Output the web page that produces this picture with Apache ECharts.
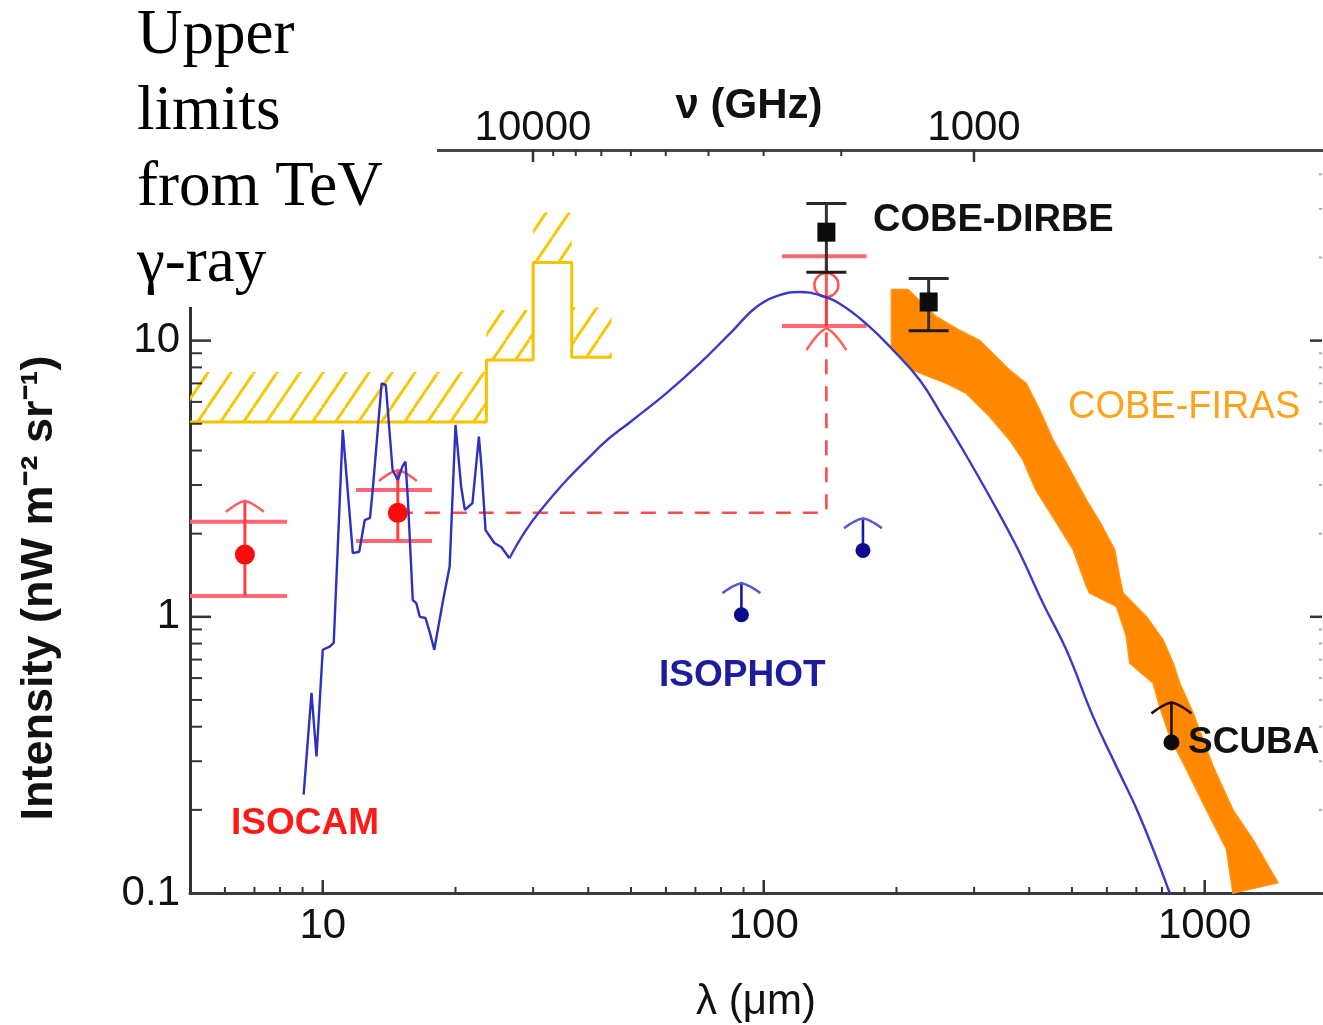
<!DOCTYPE html>
<html>
<head>
<meta charset="utf-8">
<title>Cosmic infrared background</title>
<script src="https://cdn.jsdelivr.net/npm/echarts@6.0.0/dist/echarts.min.js"></script>
<style>
html,body{margin:0;padding:0;background:#ffffff;}
#chart{width:1323px;height:1025px;}
</style>
</head>
<body>
<div id="chart"></div>
<script>
// ---------------- axes ----------------
const X_MIN = 5, X_MAX = 1845;        // wavelength λ (μm)
const Y_MIN = 0.1, Y_MAX = 49;        // intensity (nW m^-2 sr^-1)
const C_UM_GHZ = 299792.458;          // ν[GHz] = C / λ[μm]

const xMajorTicks = [10, 100, 1000];
const xMinorTicks = [6, 7, 8, 9, 20, 30, 40, 50, 60, 70, 80, 90, 200, 300, 400, 500, 600, 700, 800, 900];
const yMajorTicks = [1, 10];
const yMinorTicks = [0.2, 0.3, 0.4, 0.5, 0.6, 0.7, 0.8, 0.9, 2, 3, 4, 5, 6, 7, 8, 9, 20, 30, 40];
const nuMajorTicks = [10000, 1000];
const nuMinorTicks = [2000, 3000, 4000, 5000, 6000, 7000, 8000, 9000, 20000, 30000, 40000, 50000];

// ---------------- model spectrum (blue) ----------------
const modelSpikyLam = [9.05, 9.43, 9.68, 10.0, 10.37, 10.59, 11.1, 11.7, 12.1, 12.45, 12.8, 13.0, 13.6, 13.9, 14.4, 14.8, 15.15, 15.4, 15.6, 16.0, 16.3, 16.6, 17.1, 17.5, 17.9, 18.75, 19.4, 20.0, 20.6, 21.0, 21.85, 22.6, 22.9, 23.4, 24.5, 25.4, 26.5];
const modelSpikyI   = [0.227, 0.531, 0.312, 0.76, 0.78, 0.805, 4.75, 1.70, 1.72, 2.24, 2.28, 2.96, 7.0, 6.9, 3.4, 3.13, 3.5, 3.65, 2.65, 1.15, 1.12, 1.0, 0.99, 0.875, 0.76, 1.15, 1.52, 4.95, 2.96, 2.44, 2.58, 4.49, 3.5, 2.06, 1.85, 1.79, 1.63];
const modelBroadLam = [26.5, 31.0, 42.5, 50.5, 60.1, 71.6, 85.2, 96.1, 108.6, 120.7, 134, 148.7, 170.9, 196.5, 225.8, 254.8, 283, 325.5, 377.6, 429.8, 485.5, 558, 630, 712, 833];
const modelBroadI   = [1.63, 2.4, 4.13, 5.16, 6.44, 8.27, 10.9, 13.2, 14.6, 15.0, 14.6, 13.6, 11.5, 9.24, 7.2, 5.3, 4.02, 2.72, 1.75, 1.12, 0.76, 0.436, 0.288, 0.19, 0.1];

// ---------------- TeV gamma-ray upper limits (yellow steps) ----------------
const tevEdges  = [5, 23.5, 30, 36.7, 45.2];
const tevLevels = [5.07, 8.5, 19.2, 8.7];

// ---------------- COBE-FIRAS band (orange) ----------------
const firasUpperLam = [194.8, 212.5, 246.4, 278, 309, 361, 394, 422.6, 453, 485.6, 539, 578, 625, 641, 653, 700, 738, 804, 848, 878, 941, 1044, 1159, 1287, 1466];
const firasUpperI   = [15.3, 15.3, 12.2, 10.9, 10.0, 7.82, 7.0, 5.6, 4.37, 3.6, 2.65, 2.21, 1.75, 1.40, 1.22, 1.09, 1.0, 0.826, 0.68, 0.575, 0.449, 0.288, 0.2, 0.156, 0.109];
const firasLowerLam = [194.8, 217.9, 237.6, 259.5, 288, 325.5, 361, 387, 414, 445, 503, 539, 548, 631, 664, 676, 764, 790, 833, 909, 1009, 1120, 1159];
const firasLowerI   = [9.5, 7.82, 7.4, 7.0, 6.44, 5.3, 4.37, 3.7, 2.88, 2.40, 1.75, 1.29, 1.22, 1.09, 0.85, 0.68, 0.575, 0.474, 0.369, 0.28, 0.2, 0.144, 0.1];

// ---------------- ISOCAM (red) ----------------
const isocamLam      = [6.66, 14.8];
const isocamI        = [1.68, 2.38];
const isocamBarLo    = [1.19, 1.88];
const isocamBarHi    = [2.21, 2.88];
const isocamBarLamLo = [5.0, 11.9];
const isocamBarLamHi = [8.3, 17.7];
const isocamTip      = [2.63, 3.40];

// red open point at 140 μm and dashed limit path
const redOpenLam = [138.7];
const redOpenI = [15.9];
const redOpenLo = [11.3];
const redOpenHi = [20.2];
const redOpenLamLo = [110];
const redOpenLamHi = [171];
const dashedPathLam = [14.8, 138.7, 138.7];
const dashedPathI   = [2.38, 2.38, 11.1];

// ---------------- COBE-DIRBE (black) ----------------
const dirbeLam = [138.7, 236.6];
const dirbeI   = [24.7, 13.8];
const dirbeLo  = [17.7, 10.85];
const dirbeHi  = [31.4, 16.8];

// ---------------- ISOPHOT (blue lower limits) ----------------
const isophotLam = [89, 167.9];
const isophotI   = [1.017, 1.74];
const isophotTip = [1.324, 2.275];

// ---------------- SCUBA ----------------
const scubaLam = [840.6];
const scubaI   = [0.351];
const scubaTip = [0.49];

// ================= helpers =================
const SANS = '"Liberation Sans", Arial, Helvetica, sans-serif';
const SERIF = '"Liberation Serif", "Times New Roman", serif';

function decadeLabel(v) {
  const l = Math.log10(v);
  if (Math.abs(l - Math.round(l)) > 1e-6) return '';
  return String(+Math.pow(10, Math.round(l)).toPrecision(6));
}

function makeHatch() {
  const w = 23, h = 34;
  const c = document.createElement('canvas');
  c.width = w; c.height = h;
  const g = c.getContext('2d');
  g.strokeStyle = '#F5C80A';
  g.lineWidth = 3;
  g.beginPath();
  [-w, 0, w].forEach(o => { g.moveTo(o, h); g.lineTo(o + w, 0); });
  g.stroke();
  return c;
}
const hatchCanvas = makeHatch();

function chevron(x, y, w, d, color, lw) {
  const pts = [];
  for (let i = -4; i <= 4; i++) {
    const t = i / 4;
    pts.push([x + t * w / 2, y + d * Math.pow(Math.abs(t), 1.4)]);
  }
  return { type: 'polyline', shape: { points: pts }, style: { stroke: color, lineWidth: lw, fill: null } };
}
function seg(x1, y1, x2, y2, color, lw) {
  return { type: 'line', shape: { x1, y1, x2, y2 }, style: { stroke: color, lineWidth: lw } };
}

const tevStepPoints = [];
tevLevels.forEach((lv, i) => {
  tevStepPoints.push([tevEdges[i], lv]);
  tevStepPoints.push([tevEdges[i + 1], lv]);
});

const chart = echarts.init(document.getElementById('chart'), null, { renderer: 'canvas' });

const option = {
  animation: false,
  backgroundColor: '#ffffff',
  grid: { left: 190, right: 1, top: 150, bottom: 132, containLabel: false, outerBoundsMode: 'none' },
  xAxis: [
    {
      type: 'log', logBase: 10, min: X_MIN, max: X_MAX, gridIndex: 0, position: 'bottom',
      axisLine: { show: true, onZero: false, lineStyle: { color: '#3a3a46', width: 3 } },
      axisTick: { show: false }, minorTick: { show: false }, splitLine: { show: false },
      axisLabel: { formatter: decadeLabel, fontSize: 42, color: '#111', margin: 12, fontFamily: SANS },
      name: 'λ (μm)', nameLocation: 'middle', nameGap: 88,
      nameTextStyle: { fontSize: 42, color: '#111', fontFamily: SANS }
    },
    {
      type: 'log', logBase: 10, min: C_UM_GHZ / X_MAX, max: C_UM_GHZ / X_MIN, inverse: true,
      gridIndex: 0, position: 'top',
      axisLine: { show: true, onZero: false, lineStyle: { color: '#444452', width: 3 } },
      axisTick: { show: false }, minorTick: { show: false }, splitLine: { show: false },
      axisLabel: { formatter: decadeLabel, fontSize: 42, color: '#111', margin: 1, fontFamily: SANS }
    }
  ],
  yAxis: [
    {
      type: 'log', logBase: 10, min: Y_MIN, max: Y_MAX, gridIndex: 0, position: 'left',
      axisLine: { show: true, onZero: false, lineStyle: { color: '#33303a', width: 3 } },
      axisTick: { show: false }, minorTick: { show: false }, splitLine: { show: false },
      axisLabel: { formatter: decadeLabel, fontSize: 42, color: '#111', margin: 10, fontFamily: SANS }
    }
  ],
  series: [
    // hatched TeV upper-limit band
    {
      type: 'custom', name: 'TeV hatch', z: 1, silent: true,
      data: tevLevels.map((lv, i) => [tevEdges[i], lv, tevEdges[i + 1]]),
      renderItem: (params, api) => {
        const a = api.coord([api.value(0), api.value(1)]);
        const b = api.coord([api.value(2), api.value(1)]);
        const band = 50;
        return {
          type: 'rect',
          shape: { x: a[0], y: a[1] - band, width: b[0] - a[0], height: band },
          style: { fill: { image: hatchCanvas, repeat: 'repeat' }, stroke: null }
        };
      }
    },
    {
      type: 'line', name: 'TeV limits', z: 2, silent: true, symbol: 'none',
      data: tevStepPoints,
      lineStyle: { color: '#F4C400', width: 3 }
    },
    // COBE-FIRAS band
    {
      type: 'custom', name: 'COBE-FIRAS', z: 3, silent: true,
      data: [[firasUpperLam[0], firasUpperI[0]]],
      renderItem: (params, api) => {
        const pts = [];
        firasUpperLam.forEach((l, i) => pts.push(api.coord([l, firasUpperI[i]])));
        for (let i = firasLowerLam.length - 1; i >= 0; i--) pts.push(api.coord([firasLowerLam[i], firasLowerI[i]]));
        return { type: 'polygon', shape: { points: pts }, style: { fill: '#FF8800', stroke: '#FF9410', lineWidth: 1.5 } };
      }
    },
    // red dashed limit path
    {
      type: 'line', name: 'ISOCAM limit', z: 4, silent: true, symbol: 'none',
      data: dashedPathLam.map((l, i) => [l, dashedPathI[i]]),
      lineStyle: { color: '#FF4a4a', width: 2.6, type: [15, 12] }
    },
    // red open point with bars, chevron at dashed tip
    {
      type: 'custom', name: 'red 140', z: 5, silent: true,
      data: redOpenLam.map((l, i) => [l, redOpenI[i], redOpenLo[i], redOpenHi[i], redOpenLamLo[i], redOpenLamHi[i], dashedPathI[2]]),
      renderItem: (params, api) => {
        const lam = api.value(0);
        const p = api.coord([lam, api.value(1)]);
        const pLo = api.coord([lam, api.value(2)]);
        const pHi = api.coord([lam, api.value(3)]);
        const xa = api.coord([api.value(4), api.value(2)])[0];
        const xb = api.coord([api.value(5), api.value(2)])[0];
        const pTip = api.coord([lam, api.value(6)]);
        return { type: 'group', children: [
          seg(xa, pLo[1], xb, pLo[1], '#FF6676', 4),
          seg(xa, pHi[1], xb, pHi[1], '#FF6676', 4),
          seg(p[0], pLo[1], p[0], pHi[1], '#FF3838', 3),
          chevron(pTip[0], pTip[1], 40, 22, '#FF6060', 2.5),
          { type: 'circle', shape: { cx: p[0], cy: p[1], r: 12 }, style: { fill: 'rgba(255,255,255,0.15)', stroke: '#FF5050', lineWidth: 2.5 } }
        ] };
      }
    },
    // ISOCAM bars (under model line)
    {
      type: 'custom', name: 'ISOCAM bars', z: 5, silent: true,
      data: isocamLam.map((l, i) => [l, isocamI[i], isocamBarLo[i], isocamBarHi[i], isocamBarLamLo[i], isocamBarLamHi[i], isocamTip[i]]),
      renderItem: (params, api) => {
        const lam = api.value(0);
        const pLo = api.coord([lam, api.value(2)]);
        const pHi = api.coord([lam, api.value(3)]);
        const xa = api.coord([api.value(4), api.value(2)])[0];
        const xb = api.coord([api.value(5), api.value(2)])[0];
        const pTip = api.coord([lam, api.value(6)]);
        return { type: 'group', children: [
          seg(xa, pLo[1], xb, pLo[1], '#FF6676', 4),
          seg(xa, pHi[1], xb, pHi[1], '#FF6676', 4),
          seg(pLo[0], pLo[1], pTip[0], pTip[1], '#FF4040', 3),
          chevron(pTip[0], pTip[1], 38, 11, '#FF5a6a', 2.5)
        ] };
      }
    },
    // model spectrum
    {
      type: 'line', name: 'model (PAH)', z: 6, silent: true, symbol: 'none',
      data: modelSpikyLam.map((l, i) => [l, modelSpikyI[i]]),
      lineStyle: { color: '#2f2fc0', width: 2.4 }
    },
    {
      type: 'line', name: 'model (dust)', z: 6, silent: true, symbol: 'none', smooth: 0.45,
      data: modelBroadLam.map((l, i) => [l, modelBroadI[i]]),
      lineStyle: { color: '#3a3ac8', width: 2.4 }
    },
    // ISOCAM points
    {
      type: 'custom', name: 'ISOCAM', z: 7, silent: true,
      data: isocamLam.map((l, i) => [l, isocamI[i]]),
      renderItem: (params, api) => {
        const p = api.coord([api.value(0), api.value(1)]);
        return { type: 'circle', shape: { cx: p[0], cy: p[1], r: 10 }, style: { fill: '#FF0a0a' } };
      }
    },
    // COBE-DIRBE
    {
      type: 'custom', name: 'COBE-DIRBE', z: 8, silent: true,
      data: dirbeLam.map((l, i) => [l, dirbeI[i], dirbeLo[i], dirbeHi[i]]),
      renderItem: (params, api) => {
        const lam = api.value(0);
        const p = api.coord([lam, api.value(1)]);
        const pLo = api.coord([lam, api.value(2)]);
        const pHi = api.coord([lam, api.value(3)]);
        return { type: 'group', children: [
          seg(p[0], pLo[1], p[0], pHi[1], '#3a3030', 3),
          seg(p[0] - 20, pLo[1], p[0] + 20, pLo[1], '#221818', 3),
          seg(p[0] - 20, pHi[1], p[0] + 20, pHi[1], '#2a2a2a', 3),
          { type: 'rect', shape: { x: p[0] - 9, y: p[1] - 9.5, width: 18, height: 19 }, style: { fill: '#0c0c0c' } }
        ] };
      }
    },
    // ISOPHOT lower limits
    {
      type: 'custom', name: 'ISOPHOT', z: 8, silent: true,
      data: isophotLam.map((l, i) => [l, isophotI[i], isophotTip[i]]),
      renderItem: (params, api) => {
        const lam = api.value(0);
        const p = api.coord([lam, api.value(1)]);
        const t = api.coord([lam, api.value(2)]);
        return { type: 'group', children: [
          seg(p[0], p[1], t[0], t[1], '#1a1aa0', 2.6),
          chevron(t[0], t[1], 38, 10, '#5a5ad0', 2.5),
          { type: 'circle', shape: { cx: p[0], cy: p[1], r: 7.5 }, style: { fill: '#0b0b8c' } }
        ] };
      }
    },
    // SCUBA
    {
      type: 'custom', name: 'SCUBA', z: 8, silent: true,
      data: scubaLam.map((l, i) => [l, scubaI[i], scubaTip[i]]),
      renderItem: (params, api) => {
        const lam = api.value(0);
        const p = api.coord([lam, api.value(1)]);
        const t = api.coord([lam, api.value(2)]);
        return { type: 'group', children: [
          seg(p[0], p[1], t[0], t[1], '#2a0a00', 2.6),
          chevron(t[0], t[1], 40, 11, '#2a0a00', 2.5),
          { type: 'circle', shape: { cx: p[0], cy: p[1], r: 8 }, style: { fill: '#0c0c0c' } }
        ] };
      }
    },
    // axis ticks (all four sides, inward)
    {
      type: 'custom', name: 'ticks', z: 9, silent: true,
      data: [[xMajorTicks[0], yMajorTicks[0]]],
      renderItem: (params, api) => {
        const ch = [];
        const yb = api.coord([X_MIN, Y_MIN])[1];
        const yt = api.coord([X_MIN, Y_MAX])[1];
        const xl = api.coord([X_MIN, Y_MIN])[0];
        const xr = api.coord([X_MAX, Y_MIN])[0];
        const col = '#333';
        xMajorTicks.forEach(v => { const x = api.coord([v, Y_MIN])[0]; ch.push(seg(x, yb, x, yb - 13, col, 2.5)); });
        xMinorTicks.forEach(v => { const x = api.coord([v, Y_MIN])[0]; ch.push(seg(x, yb, x, yb - 6, col, 2)); });
        yMajorTicks.forEach(v => { const y = api.coord([X_MIN, v])[1]; ch.push(seg(xl, y, xl + 21, y, col, 2.5)); ch.push(seg(xr, y, xr - 12, y, col, 2.5)); });
        yMinorTicks.forEach(v => { const y = api.coord([X_MIN, v])[1]; ch.push(seg(xl, y, xl + 12, y, col, 2)); ch.push(seg(xr, y, xr - 3, y, '#aaa', 2)); });
        nuMajorTicks.forEach(v => { const x = api.coord([C_UM_GHZ / v, Y_MAX])[0]; ch.push(seg(x, yt, x, yt + 12, col, 2.5)); });
        nuMinorTicks.forEach(v => { const x = api.coord([C_UM_GHZ / v, Y_MAX])[0]; ch.push(seg(x, yt, x, yt + 6, col, 2)); });
        return { type: 'group', children: ch };
      }
    }
  ],
  graphic: [
    { type: 'rect', z: 100, shape: { x: 100, y: 0, width: 337, height: 307 }, style: { fill: '#ffffff' } },
    { type: 'text', z: 101, x: 137, y: -2,
      style: { text: 'Upper\nlimits\nfrom TeV\nγ-ray', font: '63px ' + SERIF, fill: '#000', lineHeight: 76,
               align: 'left', textAlign: 'left', verticalAlign: 'top', textVerticalAlign: 'top' } },
    { type: 'text', z: 101, x: 749, y: 106,
      style: { text: 'ν (GHz)', font: 'bold 42px ' + SANS, fill: '#111',
               align: 'center', textAlign: 'center', verticalAlign: 'middle', textVerticalAlign: 'middle' } },
    { type: 'text', z: 101, x: 40, y: 588, rotation: Math.PI / 2,
      style: { text: 'Intensity (nW m⁻² sr⁻¹)', font: 'bold 45px ' + SANS, fill: '#111',
               align: 'center', textAlign: 'center', verticalAlign: 'middle', textVerticalAlign: 'middle' } },
    { type: 'text', z: 101, x: 873, y: 221,
      style: { text: 'COBE-DIRBE', font: 'bold 38px ' + SANS, fill: '#111', align: 'left', textAlign: 'left', verticalAlign: 'middle', textVerticalAlign: 'middle' } },
    { type: 'text', z: 101, x: 1068, y: 408,
      style: { text: 'COBE-FIRAS', font: '38px ' + SANS, fill: '#FFA31A', align: 'left', textAlign: 'left', verticalAlign: 'middle', textVerticalAlign: 'middle' } },
    { type: 'text', z: 101, x: 659, y: 676,
      style: { text: 'ISOPHOT', font: 'bold 37px ' + SANS, fill: '#1c1c9c', align: 'left', textAlign: 'left', verticalAlign: 'middle', textVerticalAlign: 'middle' } },
    { type: 'text', z: 101, x: 231, y: 824,
      style: { text: 'ISOCAM', font: 'bold 37px ' + SANS, fill: '#FF1a1a', align: 'left', textAlign: 'left', verticalAlign: 'middle', textVerticalAlign: 'middle' } },
    { type: 'text', z: 101, x: 1188, y: 743,
      style: { text: 'SCUBA', font: 'bold 37px ' + SANS, fill: '#111', align: 'left', textAlign: 'left', verticalAlign: 'middle', textVerticalAlign: 'middle' } }
  ]
};
chart.setOption(option);
</script>
</body>
</html>
